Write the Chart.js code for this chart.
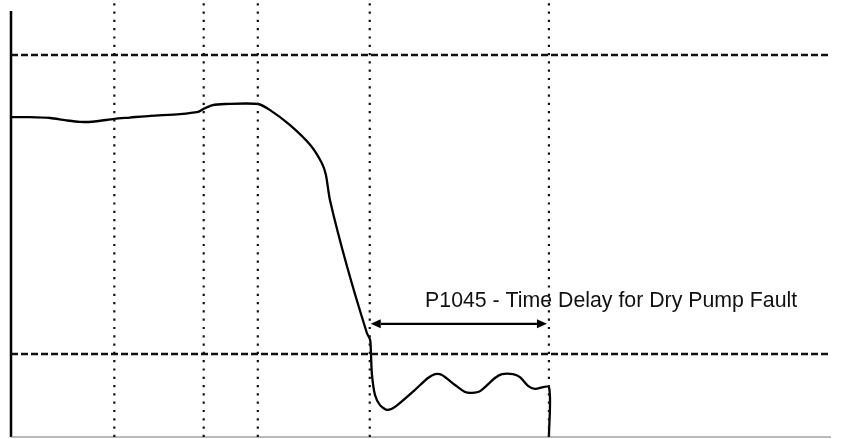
<!DOCTYPE html>
<html>
<head>
<meta charset="utf-8">
<title>Dry Pump Fault Delay</title>
<script src="https://cdn.jsdelivr.net/npm/chart.js@4"></script>
<style>
  html, body { margin: 0; padding: 0; background: #fff; overflow: hidden; }
  #wrap { width: 843px; height: 439px; position: relative; }
</style>
</head>
<body>
<div id="wrap"><canvas id="chart"></canvas></div>
<script>
// level trace (time in s, level in % of span)
const timeSec = [0, 2.3, 4.8, 6.6, 8.4, 10.2, 12.6, 14.5, 17.0, 20.6, 22.8, 23.5, 24.5, 26.1, 30.1,
  31.6, 34.0, 36.5, 37.9, 38.4, 38.9, 41.0, 43.4, 43.8, 43.9, 44.02, 44.39, 45.0, 45.85, 46.83, 49.27,
  50.85, 51.71, 52.56, 54.15, 55.37, 56.22, 57.2, 59.02, 59.88, 61.22, 62.07, 63.05, 63.9, 65.6, 65.6];
const level = [73.2, 73.2, 73.0, 72.5, 72.1, 72.2, 72.8, 73.1, 73.5, 73.9, 74.4, 75.1, 75.9, 76.2, 76.2,
  74.8, 71.4, 66.8, 62.7, 60.0, 54.2, 38.9, 23.8, 22.2, 18.8, 14.2, 9.6, 7.3, 6.2, 6.9, 10.8,
  13.5, 14.4, 14.2, 11.9, 10.3, 10.1, 10.5, 13.5, 14.4, 14.4, 13.7, 11.7, 11.0, 11.4, 0];

// set points
const highLevel = 87.4;
const lowLevel = 19.0;

// event markers (s)
const markerTimes = [12.6, 23.5, 30.1, 43.75, 65.6];

// P1045 delay window
const delayWindow = [43.75, 65.6];
const arrowLevel = 25.9;
const delayLabel = 'P1045 - Time Delay for Dry Pump Fault';
const labelAt = [50.5, 29.7];

const axisTop = 97.5;

const pts = (xs, ys) => xs.map((t, i) => ({ x: t, y: ys[i] }));

const datasets = [];

markerTimes.forEach(t => {
  datasets.push({
    data: [{ x: t, y: 0 }, { x: t, y: 100 }],
    borderColor: '#111',
    borderWidth: 2.2,
    borderDash: [2.2, 6.1],
    pointRadius: 0,
    clip: false
  });
});

[highLevel, lowLevel].forEach(v => {
  datasets.push({
    data: [{ x: 0, y: v }, { x: 100, y: v }],
    borderColor: '#111',
    borderWidth: 2.4,
    borderDash: [7, 3],
    pointRadius: 0,
    clip: false
  });
});

// axes
datasets.push({
  data: [{ x: 0, y: 0 }, { x: 100, y: 0 }],
  borderColor: '#777',
  borderWidth: 1.2,
  pointRadius: 0,
  clip: false
});
datasets.push({
  data: [{ x: 0, y: 0 }, { x: 0, y: axisTop }],
  borderColor: '#000',
  borderWidth: 2.5,
  pointRadius: 0,
  clip: false
});

datasets.push({
  data: pts(timeSec, level),
  borderColor: '#000',
  borderWidth: 2.3,
  tension: 0.25,
  pointRadius: 0,
  clip: false
});

const delayArrow = {
  id: 'delayArrow',
  afterDatasetsDraw(chart) {
    const { ctx, scales: { x, y } } = chart;
    const x1 = x.getPixelForValue(delayWindow[0]) + 1;
    const x2 = x.getPixelForValue(delayWindow[1]) - 2;
    const yy = y.getPixelForValue(arrowLevel);
    const head = 10, half = 4.5;
    ctx.save();
    ctx.strokeStyle = '#000';
    ctx.fillStyle = '#000';
    ctx.lineWidth = 2.2;
    ctx.beginPath();
    ctx.moveTo(x1 + head, yy);
    ctx.lineTo(x2 - head, yy);
    ctx.stroke();
    ctx.beginPath();
    ctx.moveTo(x1, yy);
    ctx.lineTo(x1 + head, yy - half);
    ctx.lineTo(x1 + head, yy + half);
    ctx.closePath();
    ctx.fill();
    ctx.beginPath();
    ctx.moveTo(x2, yy);
    ctx.lineTo(x2 - head, yy - half);
    ctx.lineTo(x2 - head, yy + half);
    ctx.closePath();
    ctx.fill();
    ctx.font = '21.3px "Liberation Sans", Arial, sans-serif';
    ctx.fillStyle = '#111';
    ctx.textAlign = 'left';
    ctx.textBaseline = 'alphabetic';
    ctx.fillText(delayLabel, x.getPixelForValue(labelAt[0]), y.getPixelForValue(labelAt[1]));
    ctx.restore();
  }
};

new Chart(document.getElementById('chart'), {
  type: 'line',
  data: { datasets },
  options: {
    responsive: true,
    maintainAspectRatio: false,
    animation: false,
    layout: { padding: { left: 11, right: 12, top: 0, bottom: 2 } },
    scales: {
      x: { type: 'linear', min: 0, max: 100, display: false },
      y: { min: 0, max: 100, display: false }
    },
    plugins: {
      legend: { display: false },
      tooltip: { enabled: false }
    }
  },
  plugins: [delayArrow]
});
</script>
</body>
</html>
